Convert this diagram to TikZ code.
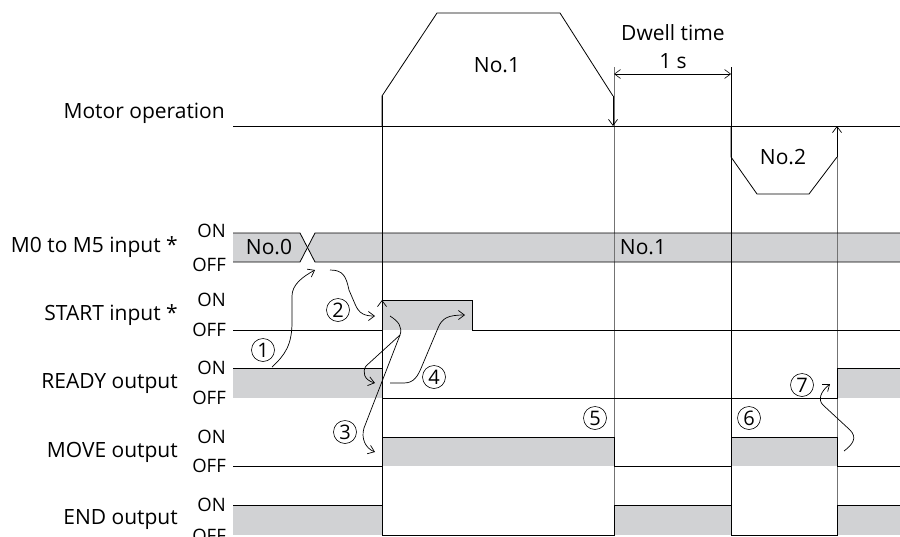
\documentclass[tikz,border=0pt]{standalone}
\usepackage{fontspec}
\setmainfont{Open Sans}
\usetikzlibrary{arrows.meta, positioning, calc}

\definecolor{siggray}{HTML}{D1D2D4}

\tikzset{
    rowlabel/.style={font=\fontsize{21}{21}\selectfont, anchor=east, inner sep=0},
    levellabel/.style={font=\fontsize{18.5}{19}\selectfont, anchor=east, inner sep=0},
    txt/.style={font=\fontsize{21}{21}\selectfont, inner sep=0},
    sig/.style={line width=0.8pt},
    guide/.style={line width=0.7pt},
    tip/.style={-{Straight Barb[length=6,width=9]}, line width=0.7pt},
    num/.style={circle, draw, line width=0.6pt, inner sep=0, minimum size=23,
                font=\fontsize{20}{20}\selectfont},
}

\begin{document}
\begin{tikzpicture}[x=1pt, y=-1pt]
    \useasboundingbox (0,0) rectangle (900,536);

    % Gray levels
    \fill[siggray] (233,233) -- (300,233) -- (307.5,247.5) -- (300,262) -- (233,262) -- cycle;
    \fill[siggray] (315,233) -- (900,233) -- (900,262) -- (315,262) -- (307.5,247.5) -- cycle;
    \fill[siggray] (382,300) rectangle (472,330);
    \fill[siggray] (233,368) rectangle (382,398);
    \fill[siggray] (837,368) rectangle (900,398);
    \fill[siggray] (382,437) rectangle (614,466);
    \fill[siggray] (731,437) rectangle (837,466);
    \fill[siggray] (233,505) rectangle (382,535);
    \fill[siggray] (614,505) rectangle (731,535);
    \fill[siggray] (837,505) rectangle (900,535);

    % Time marks
    \draw[guide] (382,96) -- (382,535);
    \draw[guide, black!55] (614,67) -- (614,535);
    \draw[guide] (731,67) -- (731,535);
    \draw[guide, black!55] (837,157) -- (837,535);
    \draw[tip] (382,318) -- (382,300);

    % Motor operation
    \draw[sig] (233,126) -- (900,126);
    \draw[sig] (382,126) -- (382,96) -- (437,13) -- (560,13) -- (613,96);
    \draw[tip] (613,96) -- (613,126);
    \draw[sig] (731,126) -- (731,157) -- (757,194) -- (809,194) -- (837,157);
    \draw[tip] (837,157) -- (837,126);
    \draw[{Straight Barb[length=6,width=9]}-{Straight Barb[length=6,width=9]}, line width=0.6pt] (614,74) -- (731,74);

    % Signals
    \draw[sig] (233,233) -- (300,233) -- (315,262) -- (900,262);
    \draw[sig] (233,262) -- (300,262) -- (315,233) -- (900,233);
    \draw[sig] (233,330) -- (382,330) -- (382,300) -- (472,300) -- (472,330) -- (900,330);
    \draw[sig] (233,368) -- (382,368) -- (382,398) -- (837,398) -- (837,368) -- (900,368);
    \draw[sig] (233,466) -- (382,466) -- (382,437) -- (614,437) -- (614,466) -- (731,466)
        -- (731,437) -- (837,437) -- (837,466) -- (900,466);
    \draw[sig] (233,505) -- (382,505) -- (382,535) -- (614,535) -- (614,505) -- (731,505)
        -- (731,535) -- (837,535) -- (837,505) -- (900,505);

    % Row labels
    \node[rowlabel] (motor) at (225,113) {Motor operation};
    \node[rowlabel] (msel) at (178,247) {M0 to M5 input *};
    \node[rowlabel] (start) at (178,315) {START input *};
    \node[rowlabel] (ready) at (178,383) {READY output};
    \node[rowlabel] (move) at (178,452) {MOVE output};
    \node[rowlabel] (endout) at (178,520) {END output};
    \foreach \on/\off [count=\i] in {231/265, 300/330, 368/398, 437/466, 505/536} {
        \node[levellabel] (on\i) at (226,\on) {ON};
        \node[levellabel] (off\i) at (226,\off) {OFF};
    }

    % Texts on the chart
    \node[txt] (nozero) at (269,247) {No.0};
    \node[txt] (noone) at (643,247) {No.1};
    \node[txt] (prof1) at (497,65) {No.1};
    \node[txt] (prof2) at (783,157) {No.2};
    \node[txt] (dwell) at (673,33) {Dwell time};
    \node[txt] (onesec) at (673,61) {1 s};

    % Sequence
    \draw[tip] (272,367) .. controls (285,355) and (292,345) .. (292,322) -- (292,296)
        .. controls (292,285) and (302,277) .. (315,270);
    \draw[tip] (330,270) .. controls (343,270) and (346,276) .. (349,290) -- (355,304)
        .. controls (359,314) and (365,316) .. (375,316);
    \draw[tip] (390,316) .. controls (398,321) and (403,327) .. (400,335) -- (366,366)
        .. controls (362,372) and (364,380) .. (375,383);
    \draw[tip] (400,335) -- (364,428) .. controls (361,438) and (365,448) .. (375,452);
    \draw[tip] (390,383) -- (404,383) .. controls (414,383) and (418,376) .. (422,366)
        -- (438,328) .. controls (442,318) and (448,315) .. (465,315);
    \draw[tip] (844,451) .. controls (852,445) and (858,438) .. (850,430) -- (823,405)
        .. controls (818,400) and (820,392) .. (830,384);

    \node[num] (n1) at (263,350) {1};
    \node[num] (n2) at (338,310) {2};
    \node[num] (n3) at (345,432) {3};
    \node[num] (n4) at (434,377) {4};
    \node[num] (n5) at (595,418) {5};
    \node[num] (n6) at (749,418) {6};
    \node[num] (n7) at (802,385) {7};
\end{tikzpicture}
\end{document}
